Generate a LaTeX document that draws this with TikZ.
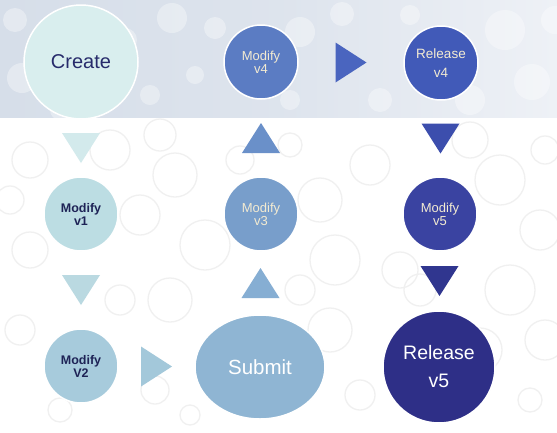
\documentclass[tikz,border=0pt]{standalone}
\usepackage{fontspec}
\setmainfont{Liberation Sans}
\usetikzlibrary{calc,shapes.geometric}

\definecolor{bandbg}{HTML}{D6DEE9}
\definecolor{bandlight}{HTML}{EEF1F6}
\definecolor{ringgray}{HTML}{F0F0F0}
\definecolor{navytext}{HTML}{272B6B}
\definecolor{boldtext}{HTML}{1E2356}
\definecolor{creamtext}{HTML}{F3EBD2}
\definecolor{cCreate}{HTML}{D9EEEE}
\definecolor{tA}{HTML}{D3EAEC}
\definecolor{cMa}{HTML}{BCDDE3}
\definecolor{tB}{HTML}{BAD9E1}
\definecolor{cMb}{HTML}{A7CBDC}
\definecolor{tC}{HTML}{A3C8DA}
\definecolor{cSub}{HTML}{8FB5D3}
\definecolor{tD}{HTML}{86AED3}
\definecolor{cMc}{HTML}{789ECB}
\definecolor{tE}{HTML}{6A90C9}
\definecolor{cMd}{HTML}{5B7CC3}
\definecolor{tF}{HTML}{4A65BF}
\definecolor{cRa}{HTML}{415AB8}
\definecolor{tG}{HTML}{3C4EAD}
\definecolor{cMe}{HTML}{3A43A1}
\definecolor{tH}{HTML}{30368F}
\definecolor{cRb}{HTML}{2E2F87}

\tikzset{
  bubble/.style={circle, draw=white, line width=1.5pt, inner sep=0pt,
    align=center},
  small/.style={bubble, minimum size=74pt},
  plainlbl/.style={font=\fontsize{13}{13}\selectfont, text=creamtext},
  boldlbl/.style={font=\fontsize{12.5}{13}\selectfont\bfseries, text=boldtext},
  tridown/.pic={\path[pic actions] (-19,-15) -- (19,-15) -- (0,15) -- cycle;},
  triup/.pic={\path[pic actions] (-19,15) -- (19,15) -- (0,-15) -- cycle;},
  triright/.pic={\path[pic actions] (-15.5,-20) -- (15.5,0) -- (-15.5,20) -- cycle;},
  ring/.style={draw=ringgray, line width=1.3pt},
  blob/.style={fill=white, opacity=0.35},
}

\begin{document}
\begin{tikzpicture}[x=1pt, y=-1pt]
\useasboundingbox (0,0) rectangle (557,432);

% background: tinted band on top, faint rings below
\fill[white] (0,0) rectangle (557,432);
\shade[left color=bandbg, right color=bandlight, middle color=bandbg!70!bandlight]
  (0,0) rectangle (557,117);
\foreach \x/\y/\r in {15/20/12, 22/78/15, 125/40/12, 172/18/15, 215/28/11,
  150/95/10, 300/32/15, 342/14/12, 505/30/20, 532/82/18, 470/100/15,
  195/75/9, 380/100/12, 60/110/10, 410/15/10, 555/20/14, 290/100/10}
  \fill[blob] (\x,\y) circle[radius=\r pt];
\foreach \x/\y/\r in {30/160/18, 110/150/20, 175/175/22, 205/245/25,
  140/215/20, 320/200/22, 335/260/25, 370/165/20, 500/180/25, 540/230/20,
  510/290/25, 480/350/22, 545/340/20, 330/330/22, 170/300/22, 30/250/18,
  20/330/15, 120/300/15, 360/395/15, 190/415/10, 530/400/12, 400/270/18,
  290/145/12, 60/410/12, 545/150/14, 240/160/14, 160/135/16, 470/140/18,
  420/290/16, 300/290/15, 10/200/14, 155/390/14}
  \draw[ring] (\x,\y) circle[radius=\r pt];

% stages
\node[bubble, minimum size=114pt, fill=cCreate, text=navytext,
  font=\fontsize{20}{22}\selectfont] (create) at (81,62) {Create};
\node[small, fill=cMa, boldlbl] (m1) at (81,214) {Modify\\v1};
\node[small, fill=cMb, boldlbl] (m2) at (81,366) {Modify\\V2};
\node[ellipse, draw=white, line width=1.5pt, fill=cSub, inner sep=0pt,
  minimum width=130pt, minimum height=104pt, text=white,
  font=\fontsize{20.5}{22}\selectfont] (submit) at (260,367) {Submit};
\node[small, fill=cMc, plainlbl] (m3) at (261,214) {Modify\\v3};
\node[small, fill=cMd, plainlbl] (m4) at (261,62) {Modify\\v4};
\node[small, fill=cRa, text=creamtext,
  font=\fontsize{13.5}{19}\selectfont] (r4) at (441,63) {Release\\v4};
\node[small, fill=cMe, plainlbl] (m5) at (440,214) {Modify\\v5};
\node[bubble, minimum size=112pt, fill=cRb, text=white,
  font=\fontsize{19.5}{28}\selectfont] (r5) at (439,367) {Release\\v5};

% arrow heads between stages
\pic[fill=tA] at ($(create.south)!0.5!(m1.north)$) {tridown};
\pic[fill=tB] at ($(m1.south)!0.5!(m2.north)$) {tridown};
\pic[fill=tC] at ($(m2.east)!0.5!(submit.west)$) {triright};
\pic[fill=tD] at ($(submit.north)!0.5!(m3.south)$) {triup};
\pic[fill=tE] at ($(m3.north)!0.5!(m4.south)$) {triup};
\pic[fill=tF] at ($(m4.east)!0.5!(r4.west)$) {triright};
\pic[fill=tG] at ($(r4.south)!0.5!(m5.north)$) {tridown};
\pic[fill=tH] at ($(m5.south)!0.5!(r5.north)$) {tridown};
\end{tikzpicture}
\end{document}
